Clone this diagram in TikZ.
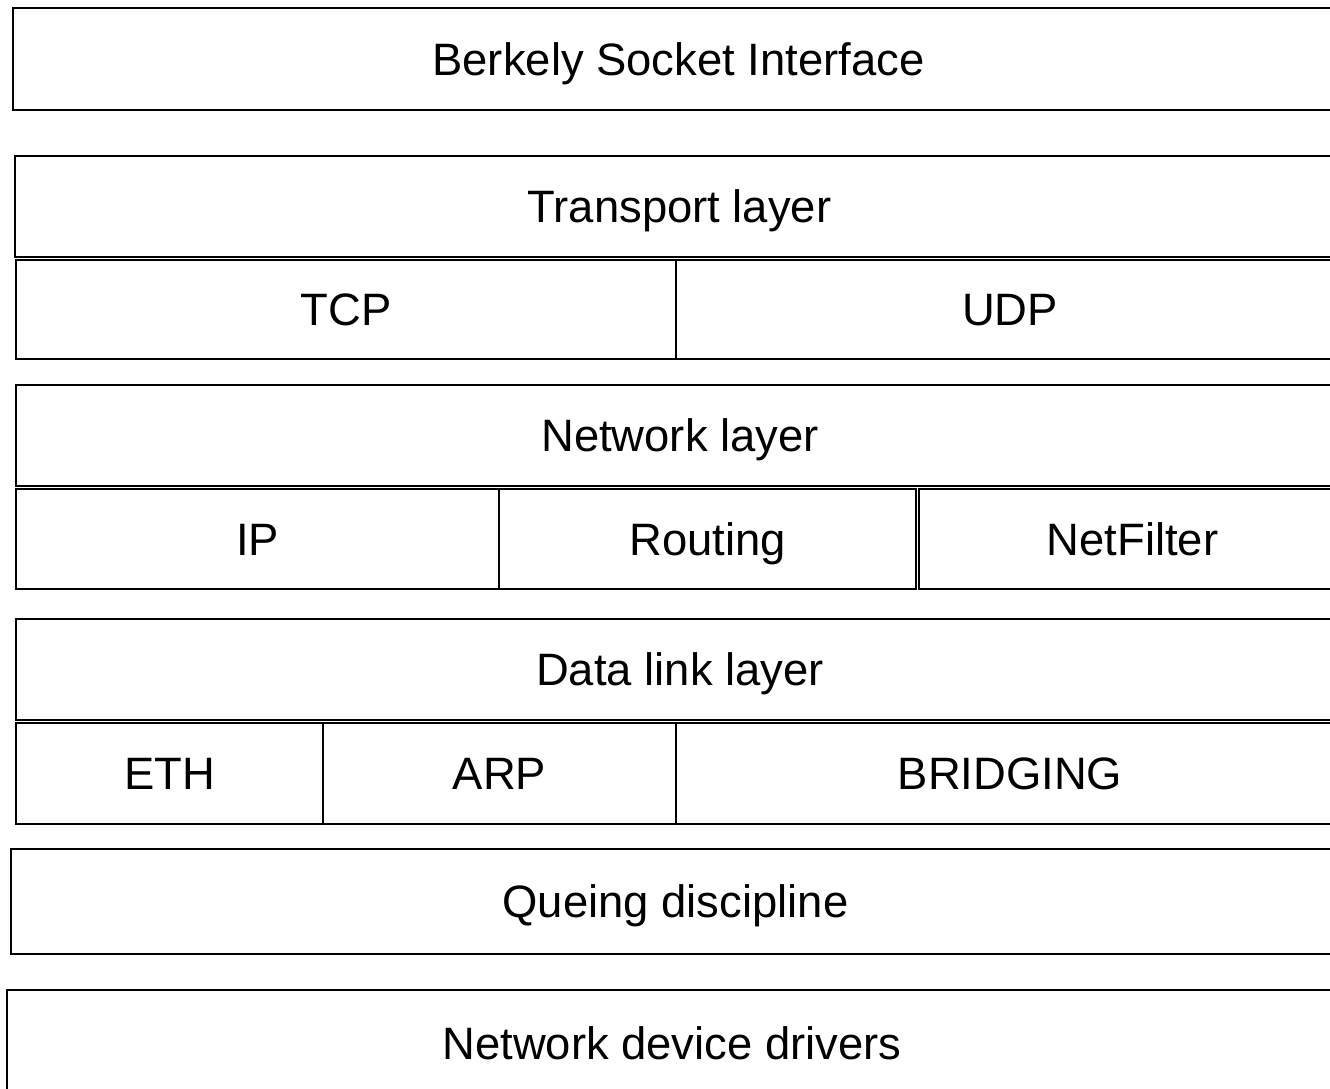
\documentclass[tikz,border=0pt]{standalone}
\usepackage{fontspec}
\setmainfont{Liberation Sans}
\begin{document}
\begin{tikzpicture}[x=1pt,y=-1pt,
  layerbox/.style={draw=black,line width=1.3pt,fill=white,inner sep=0pt,outer sep=0pt,
    font=\fontsize{45.4}{54}\selectfont,text height=32.5pt,text depth=0pt}]
\useasboundingbox (0,0) rectangle (1330,1088);
\clip (0,0) rectangle (1330,1088);
% helper: box from (x1,y1) to (x2,y2) with name and label
\newcommand{\lbox}[6]{%
  \node[layerbox,minimum width={#3-#1},minimum height={#4-#2}] (#5) at ({(#1+#3)/2},{(#2+#4)/2}) {#6};}
\lbox{13}{8}{1344}{110}{bsi}{Berkely Socket Interface}
\lbox{15}{156}{1344}{257}{tl}{Transport layer}
\lbox{16}{260}{676}{359}{tcp}{TCP}
\lbox{676}{260}{1344}{359}{udp}{UDP}
\lbox{16}{385}{1344}{486}{nl}{Network layer}
\lbox{16}{489}{499}{589}{ip}{IP}
\lbox{499}{489}{916}{589}{rt}{Routing}
\lbox{919}{489}{1346}{589}{nf}{NetFilter}
\lbox{16}{619}{1344}{720}{dl}{Data link layer}
\lbox{16}{723}{323}{824}{eth}{ETH}
\lbox{323}{723}{676}{824}{arp}{ARP}
\lbox{676}{723}{1344}{824}{br}{BRIDGING}
\lbox{11}{849}{1340}{954}{qd}{Queing discipline}
\lbox{7}{990}{1337}{1096}{ndd}{Network device drivers}
\end{tikzpicture}
\end{document}
